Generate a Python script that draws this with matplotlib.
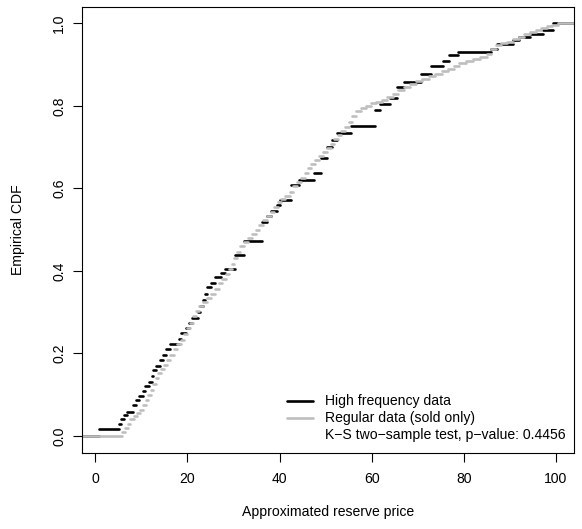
import matplotlib
matplotlib.use("Agg")
import matplotlib.pyplot as plt
from matplotlib.lines import Line2D

plt.rcParams['font.family'] = ['Liberation Sans', 'DejaVu Sans']

# ---- data: ECDF knots (x) and the CDF level reached at each knot ----
hf_x = [0.9, 5.2, 5.5, 6.2, 6.8, 8.2, 8.8, 9.4, 10.3, 10.8, 11.6, 12.2, 12.6, 13.2,
        14.0, 14.6, 15.4, 16.3, 18.2, 18.6, 19.6, 20.4, 21.0, 22.3, 22.8, 23.3, 23.8,
        24.3, 25.2, 26.0, 27.2, 28.2, 30.4, 32.3, 36.3, 37.3, 38.1, 39.5, 40.0, 42.5,
        44.2, 47.4, 49.0, 50.4, 51.4, 52.5, 55.5, 60.7, 61.8, 64.0, 65.5, 67.0, 70.7,
        72.8, 75.6, 76.8, 78.8, 86.0, 87.2, 90.7, 92.0, 94.4, 97.2, 99.5]
hf_F = [0.017, 0.030, 0.040, 0.050, 0.058, 0.074, 0.087, 0.098, 0.110, 0.120, 0.130,
        0.145, 0.160, 0.170, 0.183, 0.196, 0.210, 0.222, 0.235, 0.250, 0.262, 0.275,
        0.285, 0.300, 0.315, 0.330, 0.345, 0.362, 0.372, 0.385, 0.395, 0.405, 0.438,
        0.472, 0.518, 0.533, 0.545, 0.560, 0.572, 0.608, 0.620, 0.637, 0.673, 0.700,
        0.717, 0.734, 0.751, 0.790, 0.805, 0.820, 0.845, 0.857, 0.877, 0.897, 0.910,
        0.923, 0.930, 0.937, 0.950, 0.960, 0.968, 0.975, 0.985, 1.000]

reg_x = [5.9, 6.4, 7.0, 7.6, 8.3, 9.0, 9.8, 10.4, 10.9, 11.4, 12.0, 12.6, 13.1, 13.6,
         14.2, 14.9, 15.6, 16.3, 17.0, 17.8, 18.6, 19.3, 20.0, 20.6, 21.2, 21.9, 22.6,
         23.4, 24.3, 25.2, 26.0, 26.8, 27.6, 28.4, 29.0, 29.6, 30.2, 30.8, 31.5, 32.3,
         33.2, 34.0, 34.8, 35.6, 36.4, 37.3, 38.1, 38.8, 39.6, 40.4, 41.3, 42.2, 43.0,
         43.8, 44.7, 45.5, 46.2, 46.9, 47.7, 48.6, 49.4, 50.3, 51.1, 51.8, 52.6, 53.4,
         54.2, 55.0, 55.8, 56.7, 57.7, 58.8, 59.9, 61.0, 62.2, 63.4, 64.6, 65.8, 67.0,
         68.3, 69.6, 71.0, 72.4, 73.8, 75.2, 76.5, 77.8, 79.0, 80.5, 82.0, 83.6, 85.0,
         86.0, 87.0, 88.2, 89.5, 90.8, 92.0, 93.2, 94.4, 95.6, 96.8, 98.0, 99.2, 100.5]
reg_F = [0.010, 0.020, 0.030, 0.040, 0.048, 0.055, 0.062, 0.075, 0.088, 0.100, 0.112,
         0.125, 0.140, 0.152, 0.163, 0.172, 0.183, 0.197, 0.210, 0.222, 0.233, 0.247,
         0.262, 0.275, 0.290, 0.302, 0.315, 0.325, 0.335, 0.345, 0.357, 0.370, 0.380,
         0.392, 0.405, 0.418, 0.432, 0.447, 0.460, 0.470, 0.480, 0.490, 0.500, 0.512,
         0.523, 0.532, 0.543, 0.556, 0.566, 0.574, 0.582, 0.592, 0.605, 0.615, 0.625,
         0.637, 0.650, 0.660, 0.668, 0.678, 0.688, 0.697, 0.708, 0.720, 0.730, 0.740,
         0.750, 0.762, 0.775, 0.787, 0.795, 0.800, 0.806, 0.810, 0.815, 0.822, 0.830,
         0.838, 0.845, 0.852, 0.860, 0.866, 0.872, 0.878, 0.884, 0.890, 0.897, 0.905,
         0.910, 0.914, 0.918, 0.925, 0.937, 0.947, 0.952, 0.956, 0.962, 0.968, 0.974,
         0.980, 0.985, 0.990, 0.994, 0.997, 1.000]

x_ticks = [0, 20, 40, 60, 80, 100]
y_ticks = [0.0, 0.2, 0.4, 0.6, 0.8, 1.0]
y_tick_labels = ["0.0", "0.2", "0.4", "0.6", "0.8", "1.0"]
legend_labels = ["High frequency data", "Regular data (sold only)",
                 "K\u2212S two\u2212sample test, p\u2212value: 0.4456"]
x_label = "Approximated reserve price"
y_label = "Empirical CDF"

# ---- layout ----
W, H = 582, 529
FS = 10.1
LW = 1.9
HF_COLOR = "black"
REG_COLOR = "#BEBEBE"

fig = plt.figure(figsize=(W / 100, H / 100), dpi=100)
L, R, T, B = 81.7, 574.0, 6.7, 452.7
ax = fig.add_axes([L / W, 1 - B / H, (R - L) / W, (B - T) / H])
xlim = (-2.96, 103.96)
ylim = (-0.0405, 1.0405)


def draw_ecdf(xs, Fs, color):
    starts = [xlim[0] - 20] + list(xs)
    ends = list(xs) + [xlim[1] + 20]
    levels = [0.0] + list(Fs)
    lc = ax.hlines(levels, starts, ends, colors=color, linewidth=LW)
    lc.set_capstyle('round')


draw_ecdf(hf_x, hf_F, HF_COLOR)
draw_ecdf(reg_x, reg_F, REG_COLOR)

ax.set_xlim(*xlim)
ax.set_ylim(*ylim)
ax.set_xticks(x_ticks)
ax.set_xticklabels([str(v) for v in x_ticks], fontsize=FS)
ax.set_yticks(y_ticks)
ax.set_yticklabels(y_tick_labels, fontsize=FS, rotation=90, va='center')
ax.tick_params(axis='x', direction='out', length=6.5, width=0.8, pad=7.5)
ax.tick_params(axis='y', direction='out', length=6.5, width=0.8, pad=4.8)
for s in ax.spines.values():
    s.set_linewidth(0.8)
    s.set_color('black')

fig.text(((L + R) / 2) / W, 1 - 512 / H, x_label, ha='center', va='center', fontsize=FS)
fig.text(18 / W, 1 - ((T + B) / 2) / H, y_label, ha='center', va='center',
         rotation=90, fontsize=FS)

# ---- legend (no box) ----
rows = [401, 418, 435]
colors = [HF_COLOR, REG_COLOR, None]
for yrow, col, lab in zip(rows, colors, legend_labels):
    if col is not None:
        fig.add_artist(Line2D([287 / W, 313 / W], [1 - yrow / H, 1 - yrow / H],
                              color=col, linewidth=LW, solid_capstyle='round',
                              transform=fig.transFigure))
    fig.text(325 / W, 1 - yrow / H, lab, ha='left', va='center', fontsize=FS)

fig.savefig("out.png", dpi=100)
